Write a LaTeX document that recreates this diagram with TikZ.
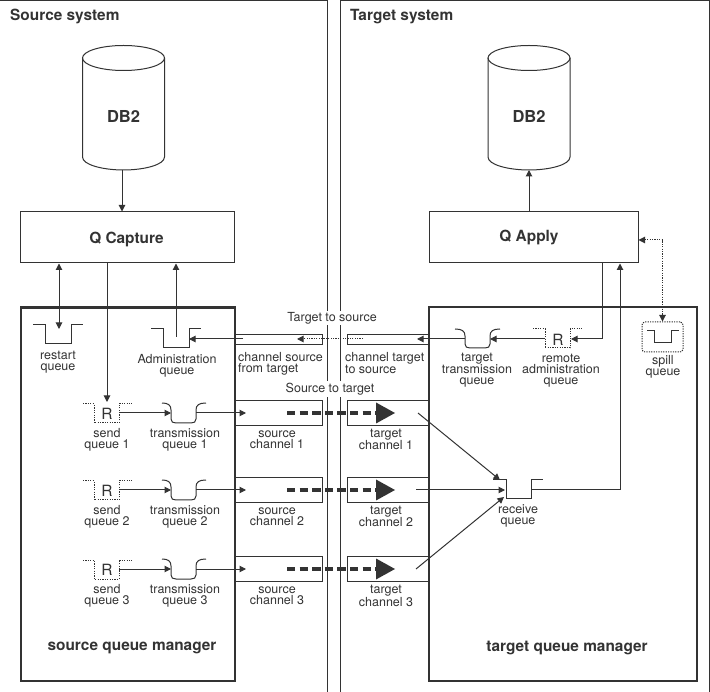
\documentclass[tikz,border=0pt]{standalone}
\usepackage{fontspec}
\setmainfont{TeX Gyre Heros}
\usetikzlibrary{arrows.meta,calc}
\definecolor{ink}{HTML}{333333}
\tikzset{
  ln/.style={draw=ink,line width=1pt},
  frame/.style={draw=ink,line width=1.2pt},
  mgr/.style={draw=ink,line width=2.4pt},
  arr/.style={ln,-{Triangle[length=6.5pt,width=6.5pt]}},
  arrb/.style={ln,{Triangle[length=6.5pt,width=6.5pt]}-{Triangle[length=6.5pt,width=6.5pt]}},
  dotl/.style={draw=ink,line width=1pt,dash pattern=on 1.2pt off 1.2pt},
  lab/.style={font=\fontsize{12.5}{11}\selectfont,align=center,text=ink,inner sep=0pt},
  labl/.style={lab,align=left,anchor=north west},
  ttl/.style={font=\fontsize{15.4}{15}\bfseries\selectfont,text=ink,inner sep=0pt},
  boxn/.style={ln,fill=white,inner sep=0pt},
  rlet/.style={font=\fontsize{15.5}{15}\selectfont,text=ink,inner sep=0pt},
  chan/.style={ln,minimum height=25pt,inner sep=0pt},
}
\begin{document}
\begin{tikzpicture}[x=1pt,y=-1pt]
\useasboundingbox (0,0) rectangle (710,692);
% system frames
\node[frame,minimum width=328pt,minimum height=692pt,inner sep=0pt,anchor=north west] (srcsys) at (-1,-0.5) {};
\node[frame,minimum width=369pt,minimum height=692pt,inner sep=0pt,anchor=north west] (tgtsys) at (340,-0.5) {};
\node[ttl,anchor=west] (srct) at (10,16) {Source system};
\node[ttl,anchor=west] (tgtt) at (350,17) {Target system};
% managers
\node[mgr,minimum width=214pt,minimum height=373pt,inner sep=0pt,anchor=north west] (srcm) at (20,306.5) {};
\node[mgr,minimum width=268pt,minimum height=374pt,inner sep=0pt,anchor=north west] (tgtm) at (428,306) {};
\node[ttl] (srcml) at (132,648) {source queue manager};
\node[ttl] (tgtml) at (567,648) {target queue manager};
% databases
\foreach \n/\cx in {dba/123.5,dbb/529}{
  \draw[ln] (\cx,58) ellipse [x radius=41pt,y radius=12.5pt];
  \draw[ln] (\cx-41,58) -- (\cx-41,157) .. controls (\cx-41,165) and (\cx-20,170) .. (\cx,170)
     .. controls (\cx+20,170) and (\cx+41,165) .. (\cx+41,157) -- (\cx+41,58);
  \coordinate (\n) at (\cx,170);
  \node[ttl,font=\fontsize{16.5}{16}\bfseries\selectfont] (\n t) at (\cx,116) {DB2};
}
% programs
\node[boxn,minimum width=214pt,minimum height=51pt] (qcap) at (127,237.5) {};
\node[ttl] (qcapt) at (126.5,239) {Q Capture};
\node[boxn,minimum width=209pt,minimum height=51pt] (qapp) at (533.5,237.5) {};
\node[ttl] (qappt) at (529,237.5) {Q Apply};
\draw[arr] (dba -| 122,170) -- (qcap.north -| 122,0);
\draw[arr] (qapp.north -| dbb) -- (dbb);
% restart and admin queues
\draw[ln] (33,325) -- (45,325) -- (45,344) -- (71,344) -- (71,325) -- (83,325);
\coordinate (restart) at (59,329);
\draw[ln] (151,329) -- (163,329) -- (163,348) -- (189,348) -- (189,329) -- (201,329);
\coordinate (admin) at (176,337);
\coordinate (adminr) at (189,339);
\draw[arrb] (qcap.south -| restart) -- (restart);
\draw[arr] (admin) -- (qcap.south -| admin);
\node[lab] (restartl) at (58,362.5) {restart\\queue};
\node[lab] (adminl) at (177,365.5) {Administration\\queue};
% admin channels
\node[chan,minimum width=88pt,minimum height=10pt,anchor=north west] (chs) at (234,334) {};
\node[chan,minimum width=81pt,minimum height=10pt,anchor=north west] (cht) at (347,334) {};
\node[labl] (chsl) at (238,352) {channel source\\from target};
\node[labl] (chtl) at (345,352) {channel target\\to source};
\coordinate (da) at (363,339);
\coordinate (db) at (297,339);
\coordinate (dc) at (243,339);
\draw[dotl,-{Triangle[length=6.5pt,width=6.5pt]}] (da) -- (db);
\draw[arr] (dc) -- (adminr);
% target transmission queue and remote admin
\draw[ln] (455,329) .. controls (462,329) and (465,331) .. (465,336) -- (465,344) .. controls (465,347) and (467,348) .. (470,348)
  -- (485,348) .. controls (488,348) and (490,347) .. (490,344) -- (490,336) .. controls (490,331) and (493,329) .. (500,329);
\coordinate (tqr) at (490,339);
\coordinate (tql) at (465,339);
\coordinate (chtin) at (417,339);
\draw[arr] (tql) -- (chtin);
\node[lab] (tql2) at (477,370) {target\\transmission\\queue};
\draw[dotl] (533,329) -- (545,329) -- (545,348) -- (570,348) -- (570,329) -- (582,329);
\node[rlet] (rr) at (558,339.5) {R};
\coordinate (rl) at (545,339);
\coordinate (rrt) at (571,339);
\draw[arr] (rl) -- (tqr);
\draw[arr] (qapp.south -| 602,0) -- (602,339) -- (rrt);
\node[lab] (rl2) at (561,371) {remote\\administration\\queue};
% spill
\node[dotl,rounded corners=3pt,minimum width=41pt,minimum height=30pt,inner sep=0pt] (spill) at (662.5,337) {};
\draw[ln] (647,331) -- (654,331) -- (654,343) -- (671,343) -- (671,331) -- (679,331);
\node[lab] (spilll) at (663,366.5) {spill\\queue};
\draw[dotl,{Triangle[length=6.5pt,width=6.5pt]}-{Triangle[length=6.5pt,width=6.5pt]}] (qapp.east |- 0,240) -| (spill.north);
% receive queue
\draw[ln] (493,480) -- (506,480) -- (506,499) -- (531,499) -- (531,480) -- (543,480);
\coordinate (rcv) at (531,490);
\node[lab] (rcvl) at (518,516) {receive\\queue};
\draw[arr] (rcv) -| (qapp.south -| 620,0);
% send rows
\draw[arr] (qcap.south -| 107,0) -- (107,402);
\foreach \i/\d/\tgt in {1/0/{500,480},2/77/{505,490},3/156/{504,497}}{
  \begin{scope}[yshift=-\d pt]
  \draw[dotl] (83,404) -- (94,404) -- (94,423) -- (119,423) -- (119,404) -- (132,404);
  \node[rlet] (r\i) at (107,414) {R};
  \coordinate (sq\i) at (119,413);
  \coordinate (tq\i) at (171,413);
  \coordinate (tqo\i) at (196,413);
  \draw[ln] (162,403) .. controls (168,403) and (171,405) .. (171,410) -- (171,419) .. controls (171,422) and (173,423) .. (176,423)
    -- (191,423) .. controls (194,423) and (196,422) .. (196,419) -- (196,410) .. controls (196,405) and (199,403) .. (206,403);
  \draw[arr] (sq\i) -- (tq\i);
  \node[chan,minimum width=88pt,anchor=north west] (sc\i) at (234,400) {};
  \node[chan,minimum width=81pt,anchor=north west] (tc\i) at (347,400) {};
  \coordinate (scin\i) at (246,413);
  \draw[arr] (tqo\i) -- (scin\i);
  \coordinate (da\i) at (287,413);
  \coordinate (db\i) at (378,413);
  \draw[draw=ink,line width=4.4pt,dash pattern=on 8.3pt off 4.3pt] (da\i) -- (db\i);
  \fill[ink] (376,402.5) -- (395,413) -- (376,423.5) -- cycle;
  \node[lab] (sql\i) at (107,439.5) {send\\queue \i};
  \node[lab] (tql\i) at (185,439.5) {transmission\\queue \i};
  \node[lab] (scl\i) at (277,439.5) {source\\channel \i};
  \node[lab] (tcl\i) at (386,439.5) {target\\channel \i};
  \coordinate (tco\i) at (\ifnum\i=1 418\else 416\fi,413);
  \end{scope}
  \draw[arr] (tco\i) -- (\tgt);
}
% captions over the gap
\node[lab,fill=white,inner sep=1.5pt] (t2s) at (332,318) {Target to source};
\node[lab,fill=white,inner sep=1.5pt] (s2t) at (330,389) {Source to target};
\end{tikzpicture}
\end{document}
